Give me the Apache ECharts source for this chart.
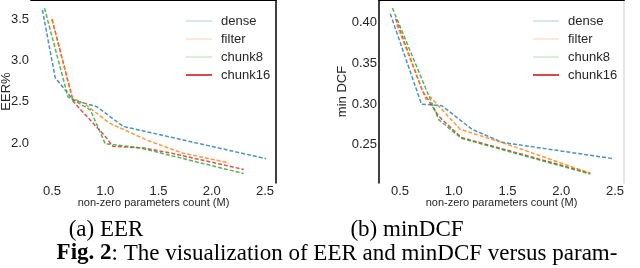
<!DOCTYPE html>
<html><head><meta charset="utf-8">
<script src="https://cdn.jsdelivr.net/npm/echarts@6/dist/echarts.min.js"></script>
<style>html,body{margin:0;padding:0;background:#fff}#c{width:640px;height:268px}</style>
</head><body><div id="c"></div>
<script>
const seriesNames = ['dense', 'filter', 'chunk8', 'chunk16'];
const xTicks = [0.5, 1.0, 1.5, 2.0, 2.5];
const eerTicks = [2.0, 2.5, 3.0, 3.5];
const dcfTicks = [0.25, 0.30, 0.35, 0.40];

// EER panel (x: non-zero params M, y: EER%)
const eerDenseX = [0.41, 0.53, 0.70, 0.92, 1.17, 2.51];
const eerDenseY = [3.61, 2.79, 2.52, 2.44, 2.20, 1.81];
const eerFilterX = [0.50, 0.69, 0.80, 1.04, 1.40, 1.72, 2.16];
const eerFilterY = [3.49, 2.54, 2.48, 2.24, 2.03, 1.88, 1.76];
const eerChunk8X = [0.43, 0.65, 0.86, 1.00, 1.08, 1.33, 2.30];
const eerChunk8Y = [3.63, 2.56, 2.40, 1.99, 1.98, 1.94, 1.63];
const eerChunk16X = [0.50, 0.70, 1.00, 1.07, 1.36, 1.61, 2.30];
const eerChunk16Y = [3.50, 2.50, 2.08, 1.96, 1.94, 1.88, 1.68];

// minDCF panel
const dcfDenseX = [0.41, 0.70, 0.89, 1.17, 1.45, 2.48];
const dcfDenseY = [0.411, 0.300, 0.298, 0.269, 0.253, 0.233];
const dcfFilterX = [0.47, 0.74, 0.78, 1.06, 1.49, 2.27];
const dcfFilterY = [0.398, 0.306, 0.309, 0.269, 0.251, 0.215];
const dcfChunk8X = [0.43, 0.86, 1.07, 2.27];
const dcfChunk8Y = [0.418, 0.281, 0.258, 0.214];
const dcfChunk16X = [0.46, 0.71, 0.86, 1.07, 2.27];
const dcfChunk16Y = [0.405, 0.316, 0.285, 0.259, 0.215];

const colors = ['#1f77b4', '#ff7f0e', '#2ca02c', '#d62728'];
const legendColors = ['rgba(31,119,180,0.18)', 'rgba(255,127,14,0.18)', 'rgba(44,160,44,0.18)', 'rgba(214,39,40,0.85)'];

const zip = (xs, ys) => xs.map((x, i) => [x, ys[i]]);
const eerData = [zip(eerDenseX, eerDenseY), zip(eerFilterX, eerFilterY), zip(eerChunk8X, eerChunk8Y), zip(eerChunk16X, eerChunk16Y)];
const dcfData = [zip(dcfDenseX, dcfDenseY), zip(dcfFilterX, dcfFilterY), zip(dcfChunk8X, dcfChunk8Y), zip(dcfChunk16X, dcfChunk16Y)];

const font = 'Liberation Sans';
const tickColor = '#262626';

function xAxes(gi, min, max) {
  return [{
    type: 'value', gridIndex: gi, min: min, max: max,
    axisLine: { show: false }, axisTick: { show: false }, splitLine: { show: false },
    axisLabel: { customValues: xTicks, margin: 2, fontSize: 13, color: tickColor, fontFamily: font, formatter: v => v.toFixed(1) },
    name: 'non-zero parameters count (M)', nameLocation: 'middle', nameGap: 14, nameMoveOverlap: false,
    nameTextStyle: { fontSize: 11, color: tickColor, fontFamily: font }
  }, {
    type: 'value', gridIndex: gi, position: 'top', min: min, max: max,
    axisLine: { show: true, lineStyle: { color: '#000', width: 2 } }, axisTick: { show: false },
    axisLabel: { show: false }, splitLine: { show: false }
  }];
}
function yAxes(gi, min, max, ticks, dec, name, leftLine, rightColor) {
  return [{
    type: 'value', gridIndex: gi, min: min, max: max,
    axisLine: { show: leftLine, lineStyle: { color: '#000', width: 1.5 } }, axisTick: { show: false }, splitLine: { show: false },
    axisLabel: { customValues: ticks, margin: 2, fontSize: 13, color: tickColor, fontFamily: font, formatter: v => v.toFixed(dec) },
    name: name, nameLocation: 'middle', nameGap: dec === 1 ? 18 : 30, nameMoveOverlap: false,
    nameTextStyle: { fontSize: 13, color: tickColor, fontFamily: font }
  }, {
    type: 'value', gridIndex: gi, position: 'right', min: min, max: max,
    axisLine: { show: true, lineStyle: { color: rightColor, width: 1.5 } }, axisTick: { show: false },
    axisLabel: { show: false }, splitLine: { show: false }
  }];
}
function lineSeries(data, gi) {
  return data.map((d, i) => ({
    name: seriesNames[i], type: 'line', xAxisIndex: gi * 2, yAxisIndex: gi * 2,
    data: d, showSymbol: false, symbol: 'none', z: 2 + (i === 3 ? 0 : i),
    lineStyle: { color: colors[i], width: 1.5, type: [4, 2], opacity: 0.8 },
    itemStyle: { color: colors[i] }
  }));
}
function legend(gi, left) {
  return {
    left: left, top: 9, orient: 'vertical', itemWidth: 26, itemHeight: 2, itemGap: 4,
    icon: 'rect', selectedMode: false,
    textStyle: { fontSize: 13, color: tickColor, fontFamily: font, lineHeight: 14, padding: [0, 0, 0, 4] },
    data: seriesNames.map((n, i) => ({ name: n, itemStyle: { color: legendColors[i] } }))
  };
}

const chart = echarts.init(document.getElementById('c'), null, { renderer: 'canvas' });
const s0 = lineSeries(eerData, 0), s1 = lineSeries(dcfData, 1);
chart.setOption({
  animation: false,
  grid: [
    { left: 31, top: 0, width: 245, height: 183, containLabel: false, outerBoundsMode: 'none' },
    { left: 379, top: 0, width: 245, height: 183, containLabel: false, outerBoundsMode: 'none' }
  ],
  xAxis: [...xAxes(0, 0.303, 2.603), ...xAxes(1, 0.305, 2.584)],
  yAxis: [...yAxes(0, 1.516, 3.73, eerTicks, 1, 'EER%', false, '#000'),
          ...yAxes(1, 0.203, 0.428, dcfTicks, 2, 'min DCF', true, '#dddddd')],
  legend: [legend(0, 181), legend(1, 528)],
  series: [...s0, ...s1],
  title: [
    { text: '(a) EER', left: 101, top: 213, textAlign: 'center',
      textStyle: { fontFamily: 'Liberation Serif', fontWeight: 'normal', fontSize: 23, color: '#000' } },
    { text: '(b) minDCF', left: 402, top: 213, textAlign: 'center',
      textStyle: { fontFamily: 'Liberation Serif', fontWeight: 'normal', fontSize: 23, color: '#000' } },
    { text: '{b|Fig. 2}: The visualization of EER and minDCF versus param-', left: 332, top: 237, textAlign: 'center',
      textStyle: { fontFamily: 'Liberation Serif', fontWeight: 'normal', fontSize: 23, color: '#000',
        rich: { b: { fontFamily: 'Liberation Serif', fontWeight: 'bold', fontSize: 23, color: '#000' } } } }
  ]
});
</script></body></html>
